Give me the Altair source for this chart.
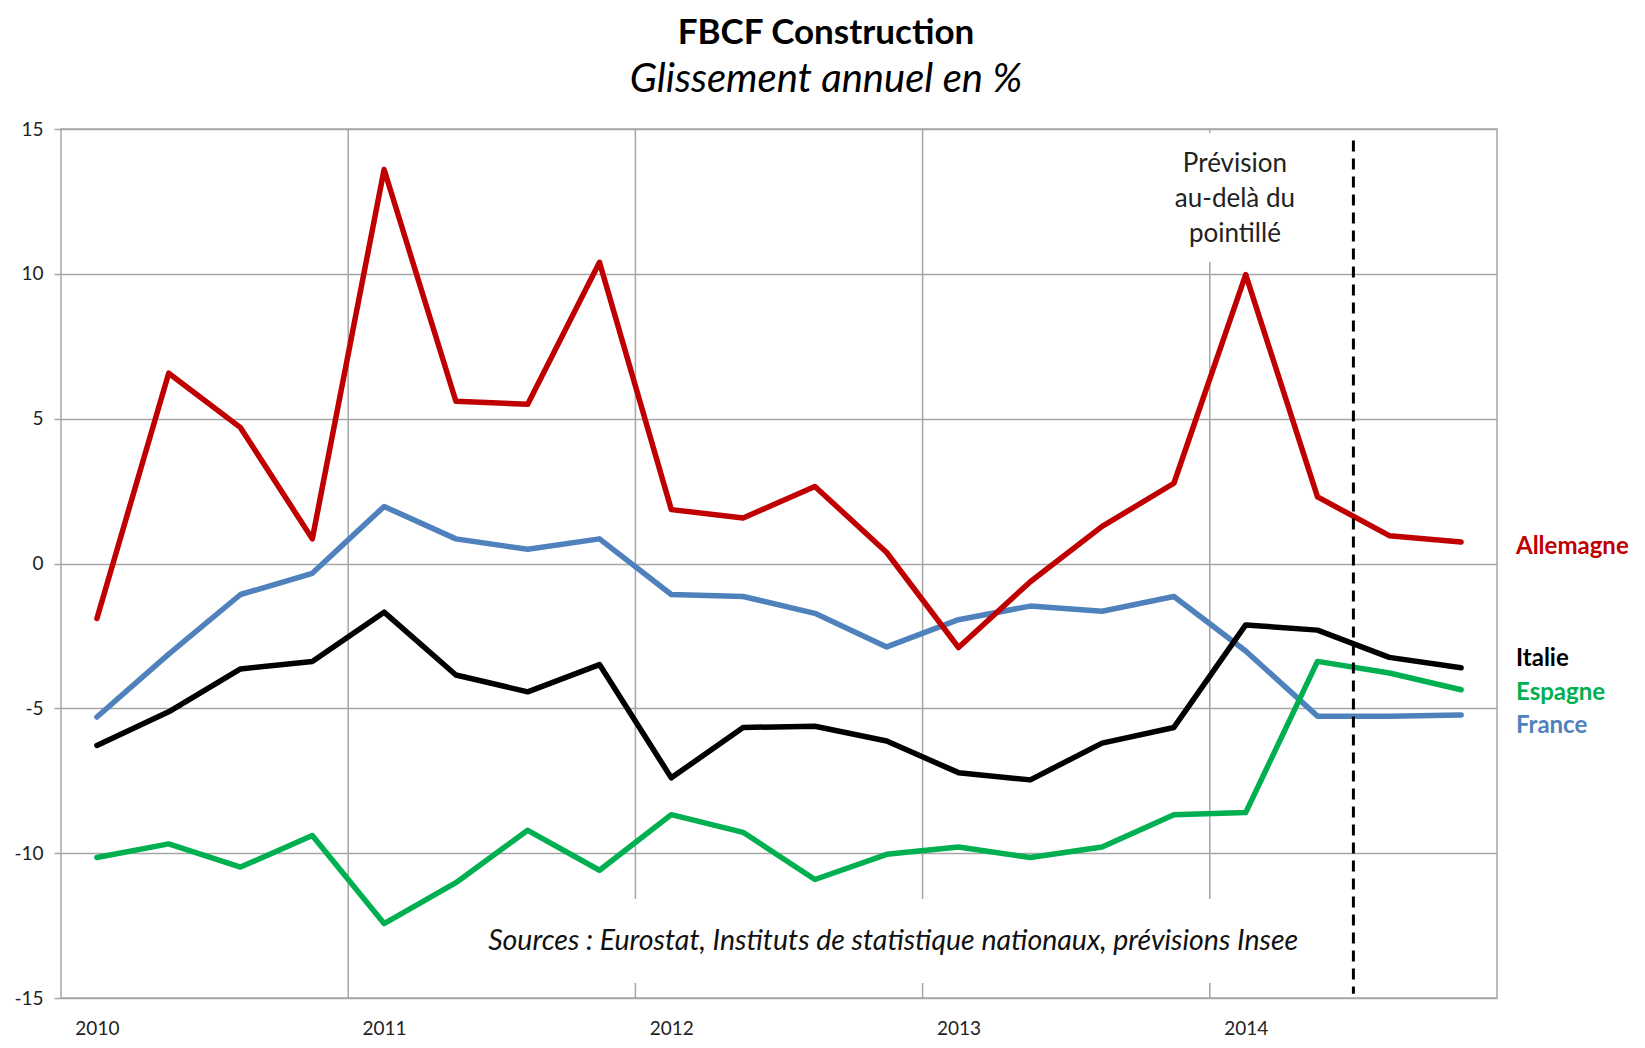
import altair as alt
import pandas as pd

# ---- data (quarterly, 2010Q1 .. 2014Q4) ----
quarters = list(range(20))
years = ["2010", "2011", "2012", "2013", "2014"]
series_names = ["France", "Allemagne", "Italie", "Espagne"]
series_colors = ["#4f81bd", "#c00000", "#000000", "#00b050"]

france = [-5.3, -3.13, -1.07, -0.34, 1.97, 0.85, 0.49, 0.85, -1.07, -1.14,
          -1.72, -2.88, -1.94, -1.47, -1.65, -1.14, -3.02, -5.27, -5.27, -5.23]
allemagne = [-1.9, 6.57, 4.69, 0.85, 13.6, 5.6, 5.5, 10.4, 1.86, 1.57,
             2.66, 0.38, -2.9, -0.63, 1.28, 2.77, 9.97, 2.3, 0.96, 0.74]
italie = [-6.28, -5.12, -3.64, -3.38, -1.68, -3.85, -4.43, -3.49, -7.4, -5.66,
          -5.62, -6.13, -7.22, -7.47, -6.2, -5.66, -2.12, -2.3, -3.24, -3.6]
espagne = [-10.15, -9.68, -10.48, -9.39, -12.43, -11.02, -9.21, -10.59, -8.67, -9.28,
           -10.91, -10.04, -9.79, -10.15, -9.79, -8.67, -8.6, -3.38, -3.78, -4.36]

label_names = ["Allemagne", "Italie", "Espagne", "France"]
label_y = [0.58, -3.3, -4.47, -5.6]           # right-hand series labels (value axis)
year_bounds = [3.5, 7.5, 11.5, 15.5]          # vertical separators between years
forecast_start = 17.5                          # dashed line position
y_ticks = [-15, -10, -5, 0, 5, 10, 15]

title_text = "FBCF Construction"
subtitle_text = "Glissement annuel en %"
note_text = "Prévision\nau-delà du\npointillé"
source_text = "Sources : Eurostat, Instituts de statistique nationaux, prévisions Insee"

FONT = "Lato"
GRID = "#a6a6a6"

rows = []
for name, vals in zip(series_names, [france, allemagne, italie, espagne]):
    for q, v in zip(quarters, vals):
        rows.append({"serie": name, "q": q, "v": v})
df = pd.DataFrame(rows)

xs = alt.Scale(domain=[-0.5, 19.5], nice=False, zero=False)
ys = alt.Scale(domain=[-15, 15], nice=False, zero=False)
color = alt.Scale(domain=series_names, range=series_colors)

label_expr = "[" + ",".join(f"'{y}'" for y in years) + "][floor(datum.value/4)]"

xaxis = alt.Axis(values=[0, 4, 8, 12, 16], labelExpr=label_expr, title=None,
                 grid=False, ticks=False, domain=False,
                 labelFont=FONT, labelFontSize=19, labelColor="#222222",
                 labelPadding=30, labelBaseline="middle")
yaxis = alt.Axis(values=y_ticks, title=None, grid=True, gridColor=GRID, gridWidth=1.5,
                 domain=False, ticks=True, tickSize=7, tickColor=GRID,
                 tickWidth=1.5, labelFont=FONT, labelFontSize=19,
                 labelExpr="replace(datum.label, '\u2212', '-')",
                 labelColor="#222222", labelPadding=11)

# vertical year gridlines
vgrid = alt.Chart(pd.DataFrame({"x": year_bounds})).mark_rule(
    color=GRID, strokeWidth=1.5
).encode(
    x=alt.X("x:Q", scale=xs, axis=xaxis),
    y=alt.value(0),
    y2=alt.value(869),
)

# white boxes behind the annotation texts
boxes = alt.Chart(pd.DataFrame({
    "x1": [5.2, 14.95], "x2": [17.0, 16.75],
    "y1": [-11.58, 10.41], "y2": [-14.48, 14.86],
})).mark_rect(color="white").encode(
    x=alt.X("x1:Q", scale=xs, axis=xaxis), x2="x2:Q",
    y=alt.Y("y1:Q", scale=ys, axis=yaxis), y2="y2:Q",
)

lines = alt.Chart(df).mark_line(
    strokeWidth=5.5, strokeCap="round", strokeJoin="round"
).encode(
    x=alt.X("q:Q", scale=xs, axis=xaxis),
    y=alt.Y("v:Q", scale=ys, axis=yaxis),
    color=alt.Color("serie:N", scale=color, legend=None),
    detail="serie:N",
)

dashed = alt.Chart(pd.DataFrame({"x": [forecast_start], "y1": [14.6], "y2": [-14.85]})).mark_rule(
    color="black", strokeWidth=3, strokeDash=[11, 7]
).encode(
    x=alt.X("x:Q", scale=xs, axis=xaxis),
    y=alt.Y("y1:Q", scale=ys, axis=yaxis), y2="y2:Q",
)

note = alt.Chart(pd.DataFrame({"x": [15.85], "y": [13.8], "t": [note_text]})).mark_text(
    font=FONT, fontSize=26, color="#222222", align="center", baseline="middle",
    lineBreak="\n", lineHeight=35
).encode(
    x=alt.X("x:Q", scale=xs, axis=xaxis),
    y=alt.Y("y:Q", scale=ys, axis=yaxis),
    text="t:N",
)

source = alt.Chart(pd.DataFrame({"x": [11.09], "y": [-13.03], "t": [source_text]})).mark_text(
    font=FONT, fontSize=28.5, fontStyle="italic", color="#111111",
    align="center", baseline="middle"
).encode(
    x=alt.X("x:Q", scale=xs, axis=xaxis),
    y=alt.Y("y:Q", scale=ys, axis=yaxis),
    text="t:N",
)

labels = alt.Chart(pd.DataFrame({"serie": label_names, "y": label_y})).mark_text(
    font=FONT, fontSize=24, fontWeight="bold", align="left", baseline="middle"
).encode(
    x=alt.value(1455),
    y=alt.Y("y:Q", scale=ys, axis=yaxis),
    text="serie:N",
    color=alt.Color("serie:N", scale=color, legend=None),
)

chart = alt.layer(vgrid, boxes, lines, dashed, note, source, labels).properties(
    width=1436, height=869,
    title=alt.Title(text=title_text, subtitle=subtitle_text, anchor="middle", dx=47,
                    font=FONT, fontSize=35, fontWeight="bold", color="black",
                    subtitleFont=FONT, subtitleFontSize=40, subtitleFontStyle="italic",
                    subtitleColor="black", subtitlePadding=9, offset=20),
    padding={"left": 53, "top": 121, "right": 140, "bottom": 42},
    autosize=alt.AutoSizeParams(type="none"),
).configure_view(stroke=GRID, strokeWidth=1.5)

chart.save("out.html", embed_options={"renderer": "svg", "actions": False})
